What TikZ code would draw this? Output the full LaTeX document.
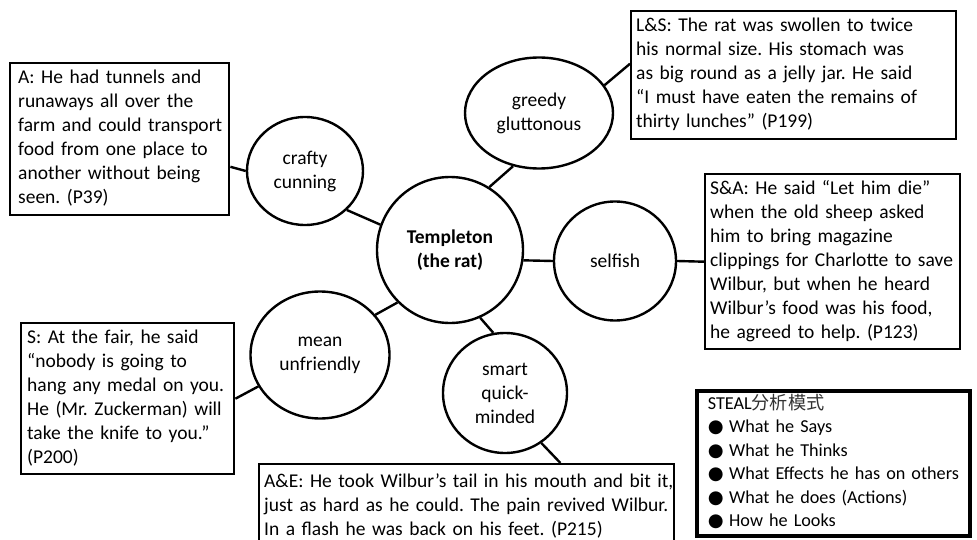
\documentclass[tikz,border=0pt]{standalone}
\usepackage{fontspec}
\setmainfont{Carlito}
\newfontfamily\cjk{Noto Sans CJK SC}
\newfontfamily\dejavu{DejaVu Sans}
\usetikzlibrary{shapes.geometric}
\frenchspacing
\tikzset{
  txt/.style={font=\fontsize{19.5}{24}\selectfont},
  box/.style={txt, draw, line width=2.4pt, rectangle, inner ysep=2pt, align=left, anchor=north west},
  trait/.style={txt, draw, line width=2.4pt, ellipse, inner sep=0pt, align=center},
  link/.style={line width=2.4pt},
}
\newcommand{\bul}{{\dejavu ●}\hspace{0.3em}}
\newcommand{\rows}[1]{\begin{tabular}{@{}l@{}}#1\end{tabular}}
\begin{document}
\begin{tikzpicture}[x=1pt,y=-1pt]
\useasboundingbox[fill=white] (0,0) rectangle (977,540);
% trait circles
\node[trait, minimum width=146pt, minimum height=146pt, font=\fontsize{19.5}{24}\selectfont\bfseries] (tmp) at (450,250) {Templeton\\(the rat)};
\node[trait, minimum width=116pt, minimum height=108pt] (crafty) at (305,171) {crafty\\cunning};
\node[trait, minimum width=148pt, minimum height=111pt] (greedy) at (539,113) {greedy\\gluttonous};
\node[trait, minimum width=122pt, minimum height=119pt] (selfish) at (615,261) {selfish};
\node[trait, minimum width=139pt, minimum height=127pt] (mean) at (320,355) {mean\\unfriendly};
\node[trait, minimum width=124pt, minimum height=120pt] (smart) at (505,393) {smart\\quick-\\minded};
% evidence boxes
\node[box, inner xsep=8pt, text width=203pt, minimum height=152pt] (abox) at (9,62)
  {\rows{A: He had tunnels and\\runaways all over the\\farm and could transport\\food from one place to\\another without being\\seen. (P39)}};
\node[box, inner xsep=5pt, text width=315pt, minimum height=128pt] (lsbox) at (630,10)
  {\rows{L\&S: The rat was swollen to twice\\his normal size. His stomach was\\as big round as a jelly jar. He said\\“I must have eaten the remains of\\thirty lunches” (P199)}};
\node[box, inner xsep=5pt, text width=245pt, minimum height=175pt] (sabox) at (704,173)
  {\rows{S\&A: He said “Let him die”\\when the old sheep asked\\him to bring magazine\\clippings for Charlotte to save\\Wilbur, but when he heard\\Wilbur’s food was his food,\\he agreed to help. (P123)}};
\node[box, inner xsep=6pt, text width=201pt, minimum height=151pt] (sbox) at (20,322)
  {\rows{S: At the fair, he said\\“nobody is going to\\hang any medal on you.\\He (Mr. Zuckerman) will\\take the knife to you.”\\(P200)}};
\node[box, inner xsep=5pt, text width=405pt, minimum height=85pt] (aebox) at (258,463)
  {\rows{A\&E: He took Wilbur’s tail in his mouth and bit it,\\just as hard as he could. The pain revived Wilbur.\\In a flash he was back on his feet. (P215)}};
\node[box, line width=3.6pt, inner xsep=11pt, text width=251pt, minimum height=143pt, font=\fontsize{18.2}{23.5}\selectfont] (steal) at (695,389)
  {\rows{STEAL{\cjk\color{black!80}分析模式}\\\bul What he Says\\\bul What he Thinks\\\bul What Effects he has on others\\\bul What he does (Actions)\\\bul How he Looks}};
% connectors
\draw[link] (crafty.317) -- (tmp.160);
\draw[link] (greedy.244) -- (tmp.58);
\draw[link] (tmp.352) -- (selfish.180);
\draw[link] (mean.36) -- (tmp.225);
\draw[link] (smart.101) -- (tmp.294);
\draw[link] (abox.346) -- (crafty.180);
\draw[link] (greedy.23) -- (lsbox.176);
\draw[link] (selfish.0) -- (sabox.west);
\draw[link] (sbox.east) -- (mean.207);
\draw[link] (smart.306) -- (aebox.25.5);
\end{tikzpicture}
\end{document}
